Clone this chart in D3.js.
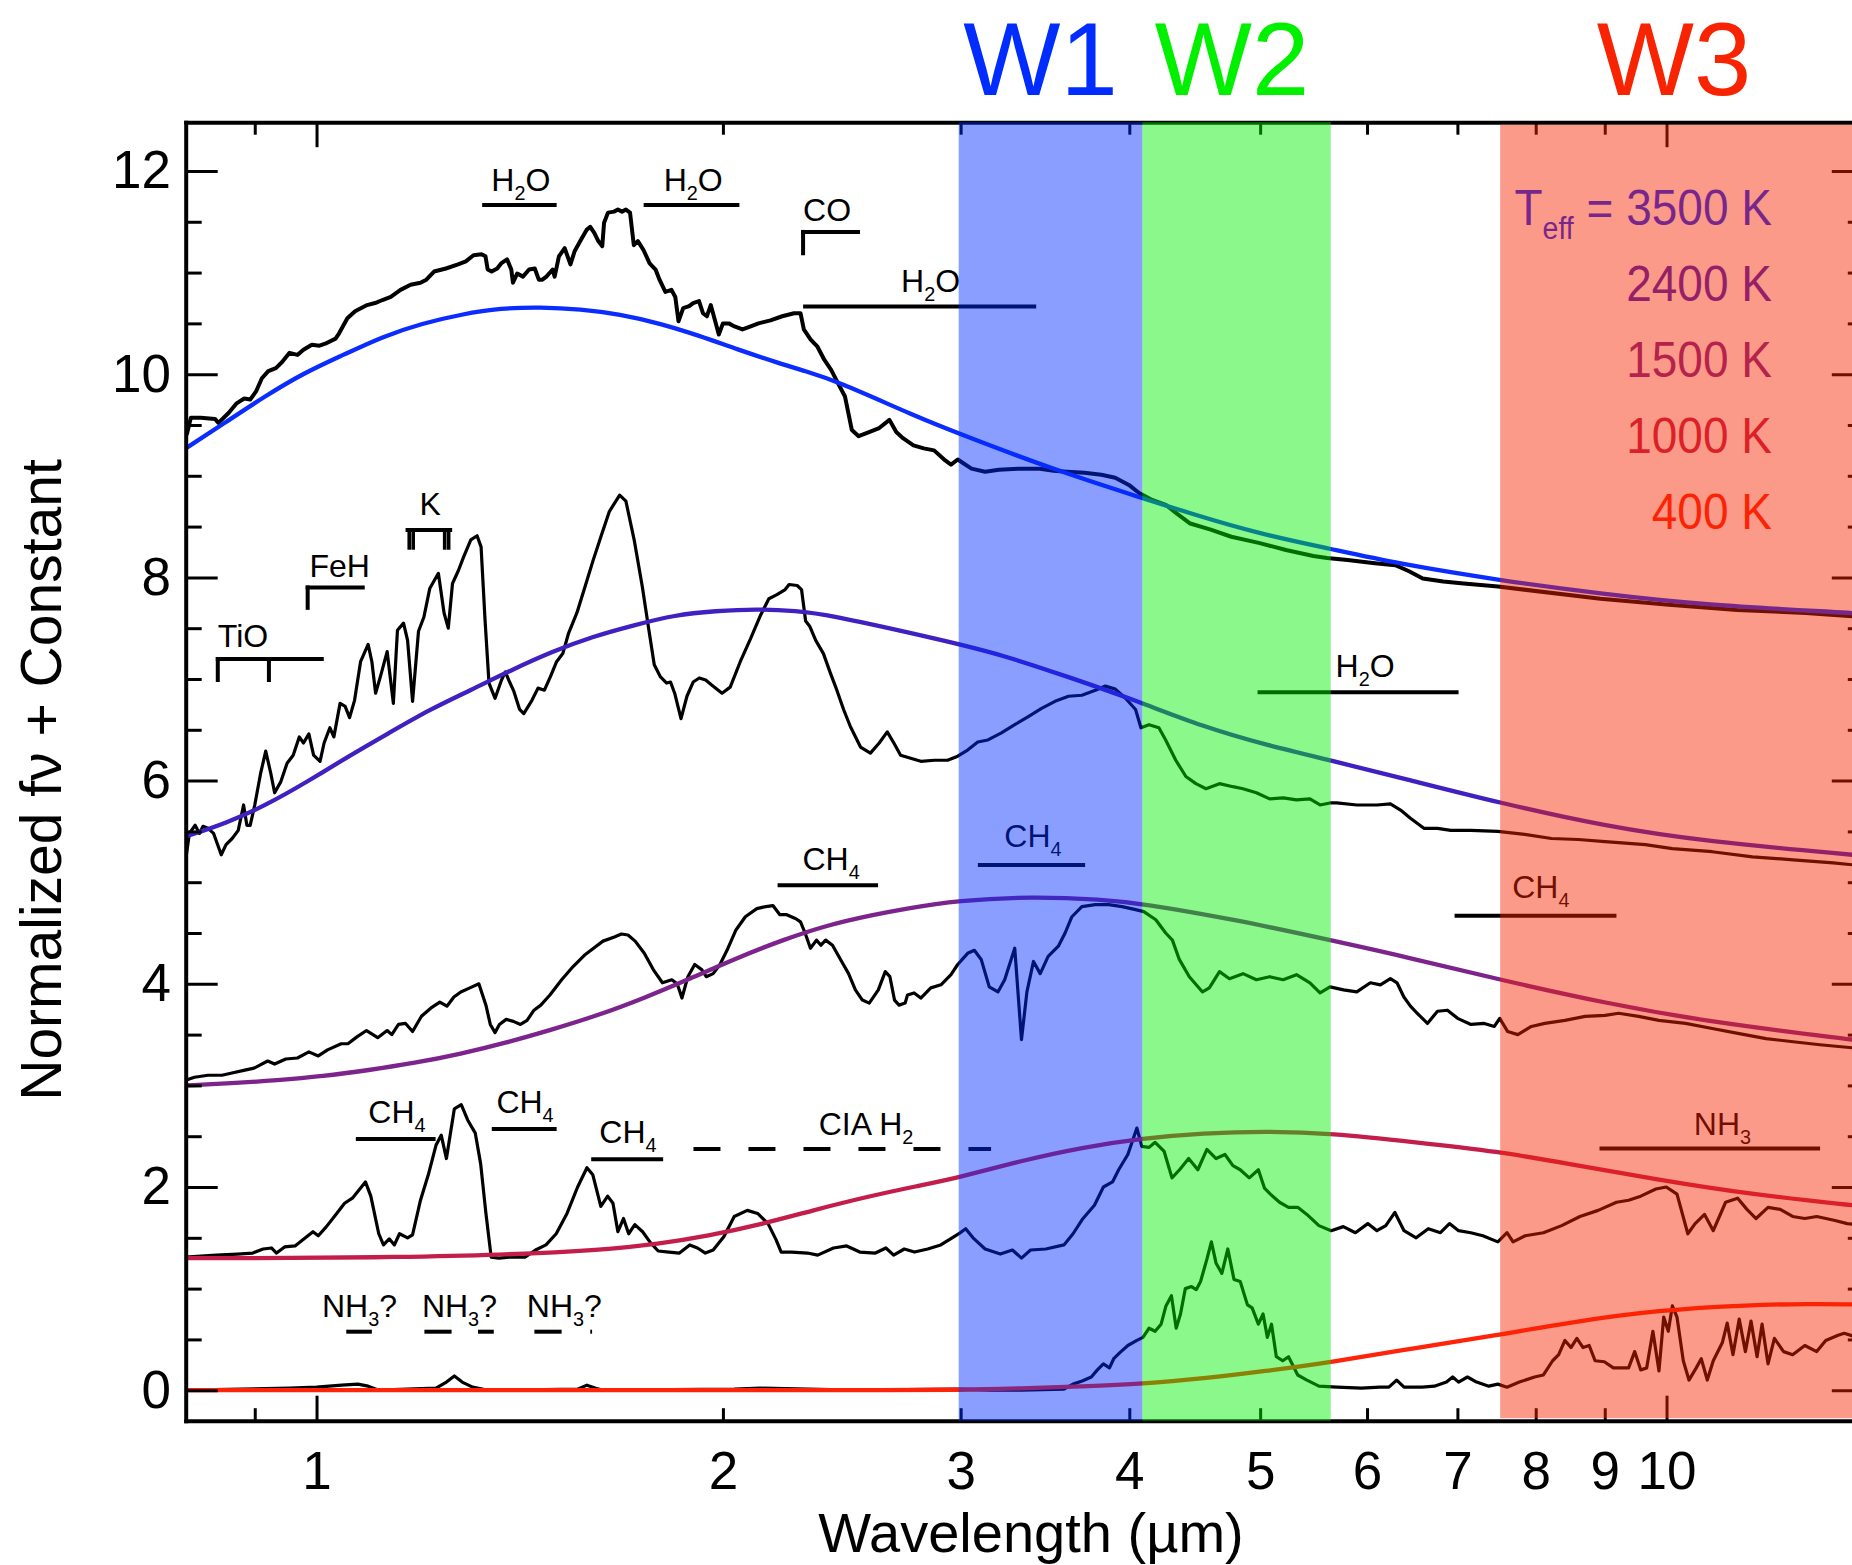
<!DOCTYPE html>
<html>
<head>
<meta charset="utf-8">
<script src="https://cdn.jsdelivr.net/npm/d3@7/dist/d3.min.js"></script>
<style>
html,body{margin:0;padding:0;background:#fff;}
svg{display:block;}
</style>
</head>
<body>
<svg id="chart" width="1852" height="1565" xmlns="http://www.w3.org/2000/svg"></svg>
<script>
// ---------------- DATA (wavelength in micron, normalized f_nu + constant) ----------------
const spec3500 = [[0.800,9.39],[0.802,9.42],[0.807,9.57],[0.821,9.57],[0.841,9.56],[0.846,9.52],[0.861,9.62],[0.872,9.71],[0.884,9.76],[0.893,9.75],[0.902,9.83],[0.911,9.96],[0.921,10.03],[0.933,10.06],[0.943,10.12],[0.955,10.21],[0.968,10.19],[0.978,10.24],[0.992,10.29],[1.005,10.28],[1.015,10.30],[1.033,10.35],[1.039,10.40],[1.054,10.55],[1.068,10.62],[1.090,10.68],[1.105,10.70],[1.119,10.73],[1.135,10.76],[1.154,10.83],[1.174,10.88],[1.194,10.90],[1.206,10.93],[1.222,11.01],[1.247,11.04],[1.273,11.08],[1.290,11.11],[1.307,11.17],[1.325,11.18],[1.334,11.16],[1.339,11.03],[1.348,11.01],[1.361,11.04],[1.370,11.09],[1.384,11.13],[1.394,11.03],[1.398,10.90],[1.408,10.99],[1.422,10.96],[1.437,11.03],[1.451,11.04],[1.461,10.93],[1.470,10.93],[1.480,10.96],[1.496,11.03],[1.501,10.96],[1.512,11.16],[1.527,11.24],[1.542,11.08],[1.553,11.21],[1.568,11.31],[1.585,11.42],[1.595,11.45],[1.606,11.39],[1.617,11.31],[1.628,11.26],[1.633,11.49],[1.644,11.59],[1.661,11.60],[1.672,11.62],[1.684,11.60],[1.695,11.62],[1.707,11.59],[1.718,11.27],[1.730,11.31],[1.747,11.22],[1.765,11.09],[1.783,11.03],[1.795,10.93],[1.813,10.81],[1.832,10.83],[1.844,10.76],[1.854,10.52],[1.869,10.65],[1.888,10.67],[1.901,10.70],[1.920,10.72],[1.933,10.60],[1.946,10.57],[1.959,10.68],[1.973,10.53],[1.986,10.39],[2.000,10.50],[2.020,10.50],[2.040,10.47],[2.068,10.44],[2.097,10.47],[2.125,10.50],[2.169,10.53],[2.213,10.57],[2.258,10.60],[2.283,10.60],[2.296,10.44],[2.323,10.34],[2.350,10.27],[2.378,10.14],[2.406,10.04],[2.434,9.91],[2.463,9.78],[2.477,9.62],[2.492,9.45],[2.521,9.39],[2.566,9.43],[2.611,9.47],[2.657,9.55],[2.688,9.43],[2.719,9.37],[2.768,9.30],[2.817,9.27],[2.867,9.25],[2.917,9.16],[2.951,9.11],[2.985,9.16],[3.056,9.07],[3.128,9.04],[3.202,9.06],[3.316,9.07],[3.434,9.07],[3.516,9.05],[3.598,9.04],[3.705,9.03],[3.814,9.01],[3.905,8.98],[3.997,8.91],[4.067,8.83],[4.163,8.76],[4.261,8.71],[4.336,8.63],[4.438,8.53],[4.596,8.47],[4.760,8.40],[4.988,8.34],[5.225,8.27],[5.475,8.21],[5.605,8.19],[5.804,8.17],[6.081,8.14],[6.297,8.12],[6.446,8.06],[6.598,7.99],[6.833,7.96],[7.076,7.94],[7.501,7.91],[8.934,7.79],[10.04,7.73],[11.28,7.68],[12.68,7.65],[14.0,7.61]];

const spec2400 = [[0.800,5.22],[0.805,5.48],[0.813,5.56],[0.819,5.48],[0.824,5.55],[0.831,5.53],[0.839,5.48],[0.850,5.27],[0.857,5.37],[0.866,5.43],[0.875,5.51],[0.883,5.76],[0.888,5.56],[0.893,5.56],[0.900,5.76],[0.909,6.07],[0.917,6.29],[0.925,6.07],[0.931,5.88],[0.941,5.99],[0.951,6.17],[0.961,6.25],[0.971,6.43],[0.978,6.37],[0.987,6.46],[0.995,6.25],[1.006,6.19],[1.013,6.37],[1.023,6.52],[1.030,6.43],[1.041,6.76],[1.050,6.73],[1.058,6.62],[1.067,6.79],[1.078,7.17],[1.092,7.34],[1.099,7.17],[1.106,6.86],[1.116,7.04],[1.128,7.27],[1.140,6.76],[1.148,7.48],[1.160,7.55],[1.168,7.38],[1.178,6.78],[1.190,7.47],[1.201,7.61],[1.213,7.89],[1.231,8.04],[1.243,7.65],[1.252,7.50],[1.261,7.94],[1.274,8.07],[1.285,8.20],[1.301,8.37],[1.315,8.41],[1.324,8.30],[1.333,7.58],[1.342,6.96],[1.356,6.81],[1.371,6.99],[1.380,7.07],[1.390,6.97],[1.400,6.88],[1.414,6.70],[1.424,6.66],[1.444,6.79],[1.459,6.91],[1.475,6.89],[1.490,7.02],[1.506,7.17],[1.522,7.25],[1.537,7.45],[1.559,7.65],[1.581,7.91],[1.603,8.17],[1.626,8.42],[1.648,8.65],[1.677,8.81],[1.695,8.75],[1.719,8.37],[1.743,7.91],[1.761,7.52],[1.779,7.14],[1.798,7.02],[1.817,6.96],[1.829,6.97],[1.842,6.86],[1.862,6.61],[1.881,6.83],[1.901,6.97],[1.921,7.01],[1.942,6.99],[1.962,6.94],[1.997,6.86],[2.025,6.92],[2.060,7.17],[2.097,7.40],[2.133,7.63],[2.163,7.79],[2.193,7.83],[2.224,7.88],[2.239,7.93],[2.270,7.92],[2.287,7.88],[2.303,7.57],[2.319,7.52],[2.343,7.38],[2.374,7.25],[2.402,7.06],[2.429,6.89],[2.457,6.70],[2.486,6.53],[2.529,6.33],[2.572,6.27],[2.611,6.37],[2.647,6.48],[2.677,6.37],[2.708,6.25],[2.755,6.22],[2.803,6.19],[2.868,6.20],[2.934,6.20],[2.985,6.24],[3.036,6.30],[3.089,6.38],[3.143,6.40],[3.216,6.47],[3.290,6.55],[3.367,6.63],[3.444,6.71],[3.524,6.78],[3.606,6.83],[3.689,6.84],[3.775,6.89],[3.840,6.93],[3.906,6.90],[3.974,6.81],[4.043,6.70],[4.080,6.52],[4.137,6.55],[4.207,6.52],[4.256,6.40],[4.330,6.20],[4.405,6.04],[4.481,5.97],[4.559,5.92],[4.665,5.97],[4.773,5.94],[4.856,5.92],[4.968,5.88],[5.082,5.82],[5.200,5.83],[5.320,5.81],[5.443,5.82],[5.538,5.76],[5.633,5.78],[5.699,5.78],[5.896,5.76],[6.103,5.76],[6.244,5.77],[6.353,5.71],[6.461,5.63],[6.611,5.53],[6.766,5.53],[6.922,5.51],[7.164,5.51],[7.499,5.50],[7.851,5.47],[8.218,5.43],[8.602,5.42],[9.005,5.40],[9.645,5.37],[10.10,5.33],[10.81,5.30],[11.58,5.25],[12.41,5.22],[13.29,5.19],[14.0,5.16]];

const spec1500 = [[0.800,3.05],[0.812,3.08],[0.831,3.10],[0.851,3.10],[0.864,3.12],[0.885,3.15],[0.899,3.17],[0.920,3.24],[0.931,3.21],[0.949,3.26],[0.968,3.27],[0.987,3.33],[1.003,3.29],[1.019,3.35],[1.043,3.41],[1.055,3.41],[1.072,3.48],[1.089,3.54],[1.110,3.47],[1.128,3.54],[1.137,3.50],[1.150,3.60],[1.164,3.61],[1.178,3.53],[1.196,3.68],[1.215,3.76],[1.234,3.82],[1.249,3.78],[1.264,3.87],[1.279,3.92],[1.299,3.96],[1.319,4.00],[1.335,3.79],[1.345,3.60],[1.356,3.52],[1.366,3.60],[1.382,3.65],[1.399,3.63],[1.416,3.60],[1.432,3.64],[1.449,3.74],[1.466,3.79],[1.489,3.89],[1.519,4.04],[1.549,4.17],[1.579,4.28],[1.604,4.35],[1.630,4.42],[1.662,4.46],[1.682,4.49],[1.701,4.48],[1.722,4.42],[1.749,4.30],[1.776,4.14],[1.804,4.01],[1.833,4.04],[1.850,4.00],[1.865,3.86],[1.884,4.07],[1.906,4.19],[1.929,4.14],[1.944,4.07],[1.967,4.10],[1.990,4.19],[2.014,4.33],[2.045,4.53],[2.078,4.66],[2.119,4.74],[2.152,4.76],[2.178,4.77],[2.204,4.68],[2.230,4.68],[2.265,4.64],[2.283,4.61],[2.301,4.50],[2.322,4.35],[2.346,4.43],[2.364,4.38],[2.383,4.43],[2.411,4.38],[2.449,4.22],[2.478,4.10],[2.507,3.94],[2.537,3.84],[2.567,3.81],[2.607,3.94],[2.638,4.12],[2.659,4.07],[2.680,3.84],[2.701,3.79],[2.729,3.81],[2.740,3.89],[2.771,3.91],[2.803,3.86],[2.851,3.96],[2.901,3.99],[2.951,4.09],[2.985,4.19],[3.036,4.30],[3.071,4.33],[3.107,4.24],[3.150,3.97],[3.197,3.92],[3.234,4.04],[3.290,4.35],[3.328,3.45],[3.359,3.92],[3.397,4.22],[3.436,4.10],[3.483,4.27],[3.544,4.37],[3.585,4.50],[3.627,4.66],[3.689,4.76],[3.775,4.78],[3.862,4.78],[3.951,4.76],[4.043,4.73],[4.100,4.71],[4.185,4.63],[4.256,4.50],[4.305,4.43],[4.356,4.24],[4.431,4.07],[4.532,3.92],[4.585,3.96],[4.665,4.12],[4.745,4.05],[4.856,4.10],[4.968,4.04],[5.082,4.07],[5.200,4.04],[5.320,4.09],[5.443,4.01],[5.538,3.91],[5.633,3.97],[5.764,3.94],[5.896,3.92],[6.034,4.01],[6.138,3.99],[6.244,4.05],[6.315,4.01],[6.389,3.87],[6.461,3.78],[6.537,3.71],[6.651,3.61],[6.766,3.73],[6.882,3.74],[7.002,3.66],[7.164,3.60],[7.328,3.61],[7.455,3.58],[7.524,3.66],[7.627,3.53],[7.760,3.50],[7.941,3.58],[8.125,3.61],[8.409,3.64],[8.703,3.68],[9.005,3.69],[9.215,3.71],[9.535,3.68],[9.869,3.64],[10.33,3.61],[10.81,3.56],[11.32,3.51],[11.85,3.46],[12.41,3.43],[12.99,3.40],[14.0,3.36]];

const spec1000 = [[0.800,1.31],[0.843,1.33],[0.874,1.34],[0.897,1.35],[0.913,1.39],[0.926,1.40],[0.934,1.35],[0.947,1.41],[0.964,1.42],[0.977,1.48],[0.994,1.56],[1.003,1.52],[1.017,1.61],[1.035,1.74],[1.049,1.84],[1.063,1.89],[1.087,2.05],[1.097,1.91],[1.112,1.54],[1.121,1.43],[1.132,1.49],[1.142,1.43],[1.152,1.54],[1.168,1.50],[1.178,1.53],[1.194,1.87],[1.210,2.12],[1.226,2.41],[1.237,2.51],[1.248,2.28],[1.265,2.77],[1.280,2.81],[1.294,2.66],[1.311,2.53],[1.323,2.23],[1.335,1.74],[1.347,1.31],[1.365,1.30],[1.389,1.31],[1.427,1.31],[1.453,1.38],[1.479,1.43],[1.505,1.54],[1.533,1.74],[1.561,2.00],[1.586,2.19],[1.602,2.12],[1.624,1.81],[1.643,1.91],[1.658,1.84],[1.672,1.56],[1.688,1.69],[1.703,1.54],[1.721,1.63],[1.744,1.56],[1.768,1.45],[1.791,1.37],[1.824,1.36],[1.857,1.35],[1.890,1.43],[1.915,1.40],[1.941,1.35],[1.967,1.38],[2.003,1.51],[2.039,1.71],[2.085,1.77],[2.122,1.74],[2.160,1.64],[2.190,1.48],[2.209,1.36],[2.249,1.36],[2.310,1.35],[2.351,1.33],[2.415,1.40],[2.470,1.42],[2.526,1.36],[2.594,1.35],[2.641,1.40],[2.676,1.33],[2.725,1.39],[2.773,1.36],[2.836,1.39],[2.900,1.43],[2.965,1.51],[2.991,1.54],[3.026,1.59],[3.064,1.50],[3.128,1.39],[3.210,1.34],[3.277,1.38],[3.328,1.30],[3.380,1.38],[3.469,1.39],[3.578,1.43],[3.634,1.54],[3.691,1.68],[3.769,1.82],[3.827,2.00],[3.887,2.05],[3.928,2.17],[3.990,2.32],[4.052,2.58],[4.086,2.40],[4.137,2.39],[4.180,2.44],[4.245,2.35],[4.302,2.09],[4.358,2.17],[4.426,2.28],[4.496,2.17],[4.566,2.37],[4.638,2.28],[4.709,2.32],[4.773,2.21],[4.833,2.17],[4.908,2.09],[4.985,2.17],[5.037,1.99],[5.088,1.93],[5.168,1.85],[5.248,1.80],[5.331,1.80],[5.415,1.73],[5.527,1.62],[5.644,1.57],[5.762,1.61],[5.882,1.55],[6.008,1.64],[6.102,1.57],[6.195,1.62],[6.292,1.75],[6.391,1.57],[6.524,1.50],[6.661,1.59],[6.800,1.55],[6.906,1.64],[7.014,1.57],[7.161,1.55],[7.310,1.52],[7.500,1.46],[7.618,1.55],[7.697,1.46],[7.858,1.52],[8.106,1.55],[8.362,1.62],[8.627,1.71],[8.899,1.77],[9.182,1.85],[9.374,1.87],[9.570,1.91],[9.820,1.98],[9.996,2.00],[10.18,1.93],[10.37,1.54],[10.50,1.64],[10.67,1.73],[10.83,1.57],[11.06,1.85],[11.29,1.89],[11.47,1.78],[11.65,1.69],[11.89,1.80],[12.14,1.78],[12.40,1.71],[12.66,1.69],[12.92,1.71],[13.33,1.67],[13.61,1.64],[14.0,1.62]];

const spec400 = [[0.800,0.00],[0.955,0.02],[1.000,0.03],[1.044,0.05],[1.073,0.06],[1.092,0.04],[1.112,0.00],[1.226,0.02],[1.248,0.08],[1.265,0.14],[1.282,0.08],[1.305,0.03],[1.340,0.00],[1.561,0.01],[1.586,0.05],[1.610,0.02],[1.631,0.00],[2.039,0.01],[2.132,0.02],[2.500,0.00],[2.985,0.01],[3.161,0.00],[3.328,0.00],[3.578,0.01],[3.634,0.06],[3.691,0.09],[3.749,0.13],[3.788,0.20],[3.827,0.26],[3.867,0.22],[3.895,0.31],[3.936,0.37],[3.990,0.44],[4.052,0.49],[4.094,0.52],[4.137,0.61],[4.180,0.58],[4.223,0.65],[4.258,0.83],[4.298,0.93],[4.333,0.61],[4.365,0.75],[4.401,1.00],[4.447,1.02],[4.484,0.99],[4.517,1.07],[4.566,1.29],[4.601,1.46],[4.638,1.25],[4.684,1.15],[4.732,1.39],[4.782,1.09],[4.833,1.07],[4.893,0.84],[4.932,0.81],[4.985,0.65],[5.025,0.75],[5.062,0.52],[5.098,0.65],[5.140,0.33],[5.196,0.29],[5.248,0.33],[5.331,0.15],[5.415,0.10],[5.527,0.04],[5.702,0.03],[5.943,0.02],[6.132,0.03],[6.228,0.03],[6.311,0.10],[6.391,0.03],[6.592,0.03],[6.730,0.04],[6.871,0.08],[6.944,0.13],[7.014,0.08],[7.121,0.13],[7.233,0.08],[7.385,0.04],[7.500,0.06],[7.618,0.03],[7.780,0.08],[7.984,0.13],[8.106,0.15],[8.234,0.29],[8.320,0.35],[8.409,0.49],[8.496,0.42],[8.582,0.51],[8.673,0.42],[8.764,0.44],[8.853,0.29],[8.993,0.28],[9.133,0.22],[9.228,0.22],[9.374,0.22],[9.471,0.38],[9.570,0.20],[9.667,0.22],[9.770,0.58],[9.872,0.19],[9.952,0.72],[10.03,0.58],[10.10,0.83],[10.18,0.72],[10.29,0.29],[10.39,0.10],[10.52,0.22],[10.61,0.31],[10.72,0.10],[10.83,0.29],[11.00,0.47],[11.09,0.66],[11.20,0.35],[11.32,0.70],[11.44,0.38],[11.55,0.68],[11.67,0.33],[11.77,0.65],[11.89,0.26],[12.02,0.51],[12.21,0.38],[12.40,0.35],[12.66,0.44],[12.92,0.38],[13.12,0.49],[13.40,0.54],[13.54,0.56],[14.0,0.50]];

// blackbody curves
const bb3500 = [[0.80,9.27],[0.855,9.52],[0.915,9.78],[0.978,10.01],[1.047,10.19],[1.119,10.37],[1.198,10.50],[1.281,10.59],[1.370,10.65],[1.466,10.66],[1.568,10.64],[1.678,10.59],[1.795,10.50],[1.920,10.38],[2.054,10.24],[2.198,10.11],[2.301,10.03],[2.420,9.94],[2.784,9.58],[2.985,9.42],[3.516,9.06],[4.091,8.78],[4.438,8.63],[4.988,8.43],[5.643,8.28],[6.297,8.14],[7.53,7.97],[8.934,7.84],[10.64,7.73],[13.72,7.65],[14.0,7.64]];
const bb2400 = [[0.80,5.45],[0.857,5.58],[0.918,5.76],[0.985,5.99],[1.056,6.24],[1.132,6.47],[1.213,6.70],[1.301,6.89],[1.395,7.09],[1.495,7.27],[1.603,7.42],[1.719,7.53],[1.842,7.63],[1.975,7.67],[2.118,7.69],[2.270,7.67],[2.381,7.64],[2.917,7.38],[3.216,7.24],[3.606,7.02],[4.043,6.79],[4.532,6.53],[5.082,6.34],[5.633,6.20],[6.389,6.02],[7.524,5.78],[9.005,5.55],[10.69,5.40],[13.72,5.27],[14.0,5.26]];
const bb1500 = [[0.80,3.00],[0.864,3.02],[0.935,3.05],[1.011,3.09],[1.093,3.15],[1.182,3.22],[1.279,3.31],[1.382,3.42],[1.495,3.55],[1.617,3.69],[1.749,3.86],[1.891,4.05],[2.045,4.25],[2.212,4.43],[2.392,4.58],[2.587,4.68],[2.729,4.74],[2.985,4.82],[3.385,4.86],[3.818,4.83],[4.089,4.79],[4.800,4.63],[5.633,4.43],[6.389,4.27],[7.524,4.04],[9.005,3.81],[10.69,3.63],[13.72,3.45],[14.0,3.44]];
const bb1000 = [[0.80,1.30],[0.955,1.30],[1.142,1.31],[1.365,1.33],[1.631,1.38],[1.791,1.44],[1.950,1.52],[2.132,1.63],[2.331,1.77],[2.548,1.90],[2.786,2.01],[2.985,2.09],[3.328,2.26],[3.691,2.39],[4.094,2.48],[4.541,2.53],[5.037,2.55],[5.644,2.53],[6.524,2.44],[7.500,2.35],[8.452,2.23],[9.872,2.07],[11.53,1.93],[13.72,1.82],[14.0,1.81]];
const bb400 = [[0.80,0.0],[2.0,0.0],[2.706,0.0],[2.985,0.003],[3.328,0.017],[3.691,0.038],[4.094,0.063],[4.541,0.116],[5.037,0.187],[5.644,0.276],[6.524,0.418],[7.500,0.542],[8.452,0.666],[9.872,0.790],[11.53,0.84],[12.79,0.85],[13.72,0.845],[14.0,0.84]];

const teffLabels = ["T_{eff} = 3500 K", "2400 K", "1500 K", "1000 K", "400 K"];
const teffLabelY = [11.468, 10.720, 9.972, 9.224, 8.476];
const bbColors = ["#0b2cff", "#4020c0", "#7d238c", "#c31e4b", "#ff230a"];

// WISE bands [lo, hi] in micron
const bandNames = ["W1", "W2", "W3"];
const bandRanges = [[2.99, 4.09], [4.09, 5.64], [7.53, 14.0]];
const bandColors = ["#002cff", "#00f000", "#f82300"];
const bandLabelX = [3.438, 4.766, 10.13];

// axis ticks
const xTickValues = [0.9, 1, 2, 3, 4, 5, 6, 7, 8, 9, 10];
const xTickLabels = [1, 2, 3, 4, 5, 6, 7, 8, 9, 10];
const xMajorTicks = [1, 10];
const yMajorTicks = [0, 2, 4, 6, 8, 10, 12];
const yMinorTicks = [0.5, 1, 1.5, 2.5, 3, 3.5, 4.5, 5, 5.5, 6.5, 7, 7.5, 8.5, 9, 9.5, 10.5, 11, 11.5];

// annotations: [text, wavelength, value, anchor]
const annotTexts = [
  ["H_2O", 1.417, 11.80, "middle"],
  ["H_2O", 1.901, 11.80, "middle"],
  ["CO", 2.293, 11.51, "start"],
  ["H_2O", 2.850, 10.81, "middle"],
  ["TiO", 0.845, 7.318, "start"],
  ["FeH", 0.988, 8.007, "start"],
  ["K", 1.214, 8.614, "middle"],
  ["H_2O", 5.98, 7.023, "middle"],
  ["CH_4", 3.394, 5.349, "middle"],
  ["CH_4", 2.405, 5.12, "middle"],
  ["CH_4", 8.07, 4.844, "middle"],
  ["CH_4", 1.147, 2.627, "middle"],
  ["CH_4", 1.427, 2.725, "middle"],
  ["CH_4", 1.701, 2.430, "middle"],
  ["CIA H_2", 2.553, 2.512, "middle"],
  ["NH_3?", 1.076, 0.723, "middle"],
  ["NH_3?", 1.276, 0.723, "middle"],
  ["NH_3?", 1.526, 0.723, "middle"],
  ["NH_3", 11.0, 2.512, "middle"]
];
// horizontal bars [lo, hi, value]
const annotLines = [
  [1.331, 1.501, 11.665], [1.753, 2.050, 11.665], [2.293, 2.518, 11.40], [2.301, 3.401, 10.665],
  [0.845, 1.009, 7.197], [0.985, 1.082, 7.90], [1.168, 1.256, 8.467],
  [4.995, 6.99, 6.869], [3.100, 3.697, 5.169], [2.203, 2.597, 4.97], [6.99, 9.15, 4.67],
  [1.073, 1.221, 2.472], [1.353, 1.501, 2.571], [1.603, 1.800, 2.273], [8.95, 12.95, 2.379]
];
// vertical bracket ticks [wavelength, top, bottom]
const annotTicks = [
  [2.293, 11.40, 11.19], [0.845, 7.197, 6.99], [0.922, 7.197, 6.99], [0.985, 7.90, 7.70]
];
const kLines = [[1.1713, 8.467, 8.29], [1.1793, 8.467, 8.29], [1.2443, 8.467, 8.29], [1.2528, 8.467, 8.29]];
const ciaDashed = [[1.902, 3.160, 2.374]];
const nh3Segments = [[1.052, 1.099], [1.202, 1.259], [1.317, 1.353], [1.450, 1.519], [1.595, 1.600]];
const nh3Level = 0.576;

// ---------------- DRAWING ----------------
const FONT = "'Liberation Sans', Arial, Helvetica, sans-serif";
const svg = d3.select("#chart");
svg.append("rect").attr("width", 1852).attr("height", 1565).attr("fill", "#fff");

const x = d3.scaleLog().domain([0.8, 14]).range([185.7, 1863.8]);
const y = d3.scaleLinear().domain([-0.3, 12.48]).range([1420.7, 122.2]);
const [X0, X1] = x.range();
const [YB, YT] = y.range();

svg.append("defs").append("clipPath").attr("id", "plotclip")
  .append("rect").attr("x", X0).attr("y", YT).attr("width", X1 - X0).attr("height", YB - YT);

const plot = svg.append("g").attr("clip-path", "url(#plotclip)");
const lineGen = d3.line().x(d => x(d[0])).y(d => y(d[1]));
const smoothGen = d3.line().x(d => x(d[0])).y(d => y(d[1])).curve(d3.curveBasis);

const spectra = [spec3500, spec2400, spec1500, spec1000, spec400];
spectra.forEach((s, i) => {
  plot.append("path").attr("d", lineGen(s)).attr("fill", "none")
    .attr("stroke", "#000").attr("stroke-width", i === 0 ? 4 : 3.2)
    .attr("stroke-linejoin", "round");
});
const bbs = [bb3500, bb2400, bb1500, bb1000, bb400];
bbs.forEach((s, i) => {
  plot.append("path").attr("d", smoothGen(s)).attr("fill", "none")
    .attr("stroke", bbColors[i]).attr("stroke-width", 4.3);
});

function richText(g, str, px, py, size, anchor, fill, sx) {
  const holder = g.append("g").attr("transform", `translate(${px},${py}) scale(${sx || 1},1)`);
  const t = holder.append("text").attr("x", 0).attr("y", 0).attr("font-size", size)
    .attr("text-anchor", anchor).attr("fill", fill).attr("font-family", FONT)
    .style("white-space", "pre");
  const segs = [];
  let i = 0, buf = "";
  while (i < str.length) {
    if (str[i] === "_") {
      if (buf) { segs.push([buf, false]); buf = ""; }
      let sub;
      if (str[i + 1] === "{") { const j = str.indexOf("}", i); sub = str.slice(i + 2, j); i = j + 1; }
      else { sub = str[i + 1]; i += 2; }
      segs.push([sub, true]);
    } else { buf += str[i]; i++; }
  }
  if (buf) segs.push([buf, false]);
  const off = size * 0.28;
  let shifted = false;
  segs.forEach(([s, isSub]) => {
    const ts = t.append("tspan").text(s);
    if (isSub) { ts.attr("font-size", size * 0.62); if (!shifted) ts.attr("dy", off); shifted = true; }
    else if (shifted) { ts.attr("dy", -off); shifted = false; }
  });
  return t;
}

// annotations
const ann = svg.append("g");
annotLines.forEach(([a, b, v]) => {
  ann.append("line").attr("x1", x(a)).attr("x2", x(b)).attr("y1", y(v)).attr("y2", y(v))
    .attr("stroke", "#000").attr("stroke-width", 4).attr("stroke-linecap", "square");
});
annotTicks.forEach(([w, t, b]) => {
  ann.append("line").attr("x1", x(w)).attr("x2", x(w)).attr("y1", y(t)).attr("y2", y(b))
    .attr("stroke", "#000").attr("stroke-width", 4).attr("stroke-linecap", "square");
});
kLines.forEach(([w, t, b]) => {
  ann.append("line").attr("x1", x(w)).attr("x2", x(w)).attr("y1", y(t)).attr("y2", y(b))
    .attr("stroke", "#000").attr("stroke-width", 3.6).attr("stroke-linecap", "square");
});
ciaDashed.forEach(([a, b, v]) => {
  ann.append("line").attr("x1", x(a)).attr("x2", x(b)).attr("y1", y(v)).attr("y2", y(v))
    .attr("stroke", "#000").attr("stroke-width", 4).attr("stroke-dasharray", "27,28");
});
nh3Segments.forEach(([a, b]) => {
  ann.append("line").attr("x1", x(a)).attr("x2", x(b)).attr("y1", y(nh3Level)).attr("y2", y(nh3Level))
    .attr("stroke", "#000").attr("stroke-width", 4);
});
annotTexts.forEach(([s, w, v, anc]) => richText(ann, s, x(w), y(v), 32, anc, "#000"));

// Teff labels
teffLabels.forEach((s, i) => richText(ann, s, x(11.97), y(teffLabelY[i]), 50, "end", bbColors[i], 0.92));

// axes
function styleAxis(g) {
  g.attr("font-family", FONT).attr("font-size", 53);
  g.select(".domain").attr("stroke", "#000").attr("stroke-width", 4).attr("stroke-linecap", "square");
  g.selectAll(".tick line").attr("stroke", "#000").attr("stroke-width", 3);
  g.selectAll(".tick text").attr("fill", "#000");
}
const fmtX = d => (xTickLabels.includes(d) ? String(d) : "");
const fmtY = d => (yMajorTicks.includes(d) ? String(d) : "");
const yAll = yMajorTicks.concat(yMinorTicks);

const gB = svg.append("g").attr("transform", `translate(0,${YB})`)
  .call(d3.axisBottom(x).tickValues(xTickValues).tickSizeInner(-12.5).tickSizeOuter(0).tickPadding(31).tickFormat(fmtX));
gB.selectAll(".tick line").filter(d => xMajorTicks.includes(d)).attr("y2", -25);
styleAxis(gB);

const gT = svg.append("g").attr("transform", `translate(0,${YT})`)
  .call(d3.axisTop(x).tickValues(xTickValues).tickSizeInner(-12.5).tickSizeOuter(0).tickFormat(() => ""));
gT.selectAll(".tick line").filter(d => xMajorTicks.includes(d)).attr("y2", 25);
styleAxis(gT);

const gL = svg.append("g").attr("transform", `translate(${X0},0)`)
  .call(d3.axisLeft(y).tickValues(yAll).tickSizeInner(-16).tickSizeOuter(0).tickPadding(14.7).tickFormat(fmtY));
gL.selectAll(".tick line").filter(d => yMajorTicks.includes(d)).attr("x2", 32);
styleAxis(gL);

const gR = svg.append("g").attr("transform", `translate(${X1},0)`)
  .call(d3.axisRight(y).tickValues(yAll).tickSizeInner(-16).tickSizeOuter(0).tickFormat(() => ""));
gR.selectAll(".tick line").filter(d => yMajorTicks.includes(d)).attr("x2", -32);
styleAxis(gR);

// band overlays (semi-transparent, on top)
const bandG = svg.append("g");
bandRanges.forEach(([lo, hi], i) => {
  const inset = i === 2 ? 2.5 : 0;
  bandG.append("rect").attr("x", x(lo)).attr("width", x(hi) - x(lo))
    .attr("y", YT + inset).attr("height", (YB - YT) - 2 * inset)
    .attr("fill", bandColors[i]).attr("fill-opacity", 0.46);
  svg.append("text").attr("x", x(bandLabelX[i])).attr("y", 95).attr("text-anchor", "middle")
    .attr("font-family", FONT).attr("font-size", 103).attr("fill", bandColors[i]).text(bandNames[i]);
});

// axis titles
svg.append("text").attr("x", 1031).attr("y", 1552).attr("text-anchor", "middle")
  .attr("font-family", FONT).attr("font-size", 56).attr("fill", "#000").text("Wavelength (\u00b5m)");
svg.append("text").attr("transform", "translate(61,780) rotate(-90)").attr("text-anchor", "middle")
  .attr("font-family", FONT).attr("font-size", 57).attr("fill", "#000").text("Normalized f\u03bd + Constant");
</script>
</body>
</html>
